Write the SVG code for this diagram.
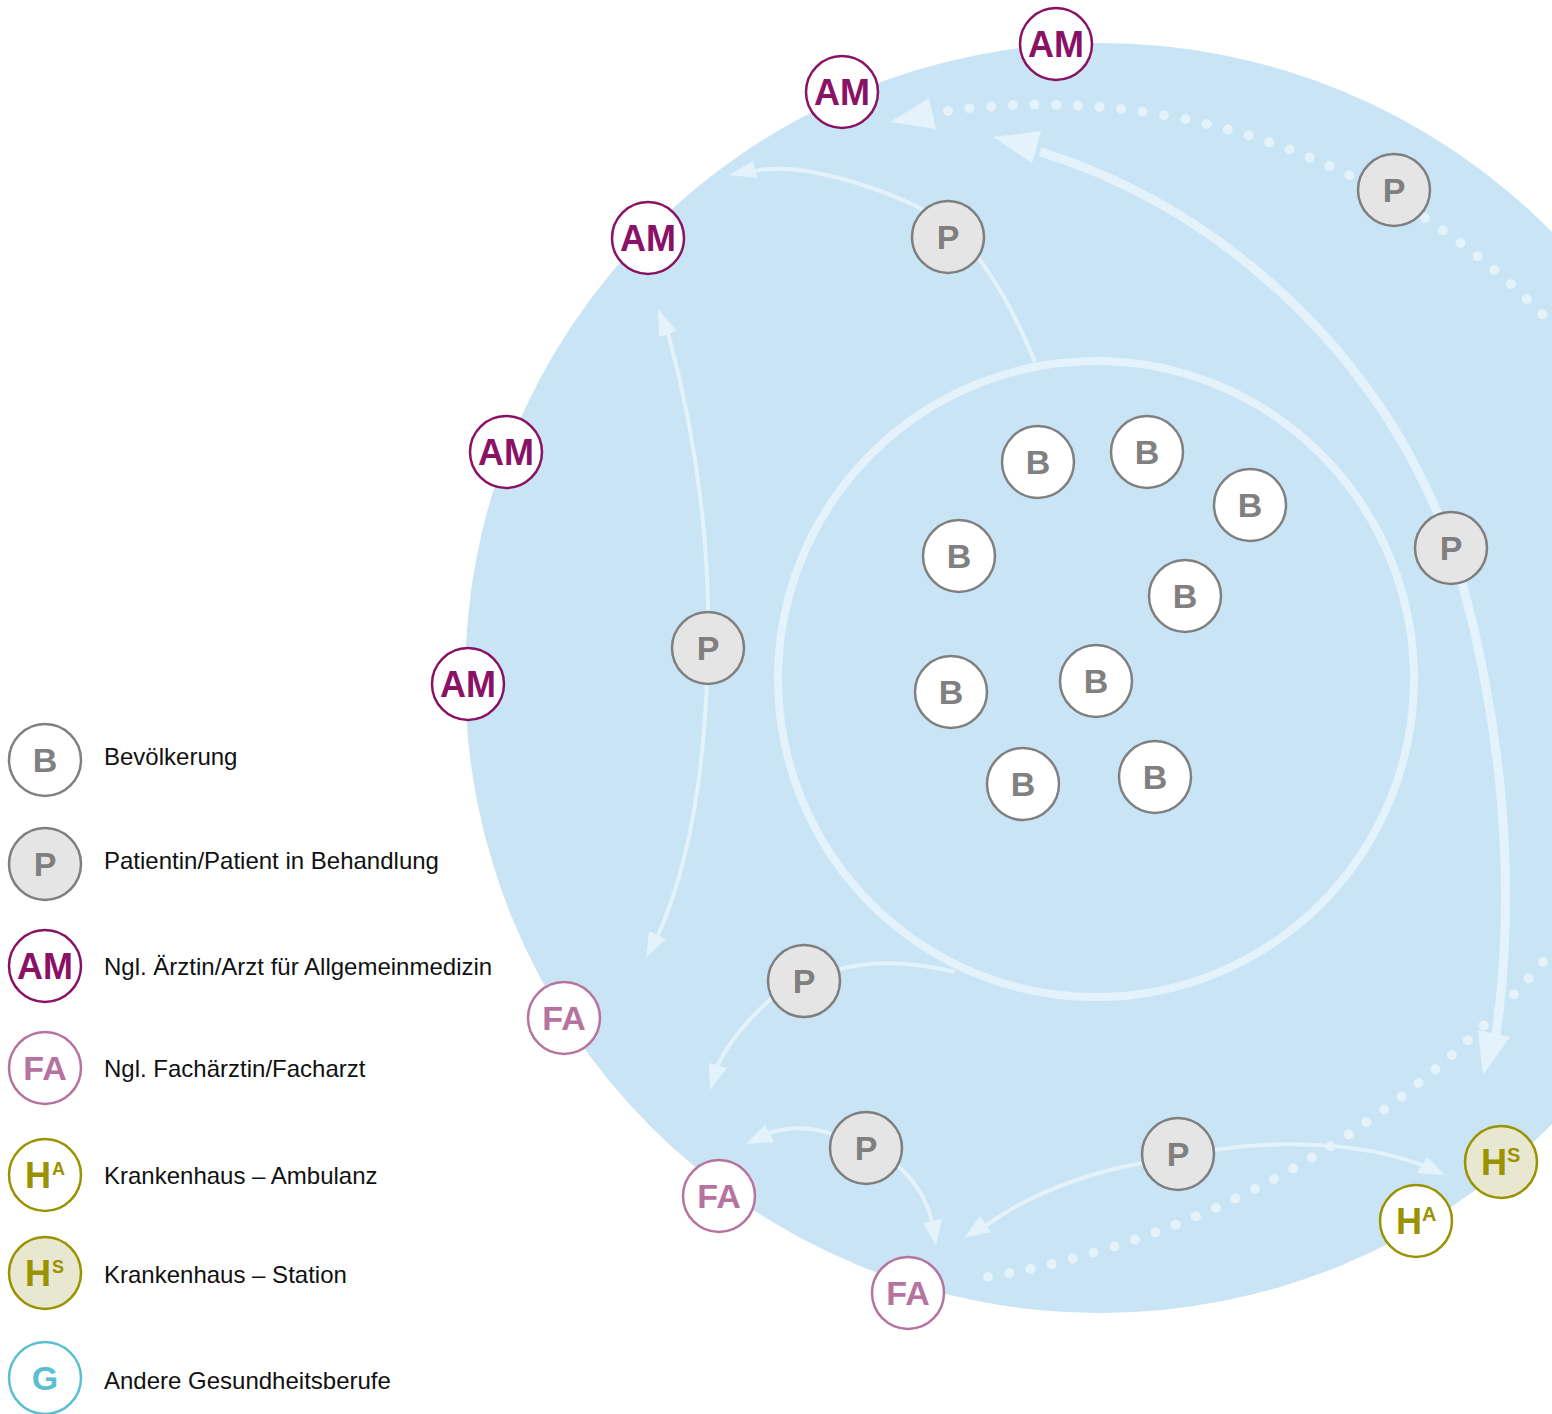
<svg xmlns="http://www.w3.org/2000/svg" width="1552" height="1414" viewBox="0 0 1552 1414">
<style>
.lbl{font-family:"Liberation Sans",Arial,Helvetica,sans-serif;font-weight:bold;text-anchor:middle}
.leg{font-family:"Liberation Sans",Arial,Helvetica,sans-serif;font-size:24px;fill:#111}
.ln{fill:none;stroke:#e3f2fb;stroke-width:4}
.thick{fill:none;stroke:#e3f2fb;stroke-width:9}
.dot{fill:none;stroke:#e3f2fb;stroke-width:10;stroke-linecap:round;stroke-dasharray:0 21.7}
.ah{fill:#e3f2fb}
.b circle{fill:#fff;stroke:#808080;stroke-width:2.5}
.b text{fill:#808080;font-size:34px}
.p circle{fill:#e5e5e5;stroke:#7f7f7f;stroke-width:2.5}
.p text{fill:#7f7f7f;font-size:34px}
.am circle{fill:#fff;stroke:#8a1266;stroke-width:2.5}
.am text{fill:#8a1266;font-size:36px}
.fa circle{fill:#fff;stroke:#b7739f;stroke-width:2.5}
.fa text{fill:#b7739f;font-size:34px}
.ha circle{fill:#fff;stroke:#9a9200;stroke-width:2.5}
.hs circle{fill:#e8e7cf;stroke:#9a9200;stroke-width:2.5}
.h text{fill:#9a9200;text-anchor:start}
.g circle{fill:#fff;stroke:#5bbfd2;stroke-width:2.5}
.g text{fill:#5bbfd2;font-size:34px}
</style>

<g id="background">
<circle cx="1100" cy="678" r="635" fill="#c9e5f5"/>
<circle cx="1096" cy="679" r="318" fill="none" stroke="#e3f2fb" stroke-width="8"/>
</g>

<g id="connectors">
<path class="dot" d="M 948,111 A 700 700 0 0 1 1616,403"/>
<polygon class="ah" points="890,122 929,98 936,129"/>
<path class="dot" d="M 988,1277 A 933 933 0 0 0 1606,879"/>
<path class="thick" d="M 1438,514 C 1360,330 1200,200 1040,152"/>
<polygon class="ah" points="993,137 1041,131 1032,163"/>
<path class="thick" d="M 1462,582 C 1500,720 1518,880 1496,1035"/>
<polygon class="ah" points="1483,1075 1478,1030 1510,1037"/>
<path class="ln" d="M 1035,362 C 1005,290 975,245 940,220 C 905,195 805,160 755,171"/>
<polygon class="ah" points="729,175 753,161 757,178"/>
<path class="ln" d="M 668,333 C 700,450 710,560 708,648 C 706,760 692,860 658,935"/>
<polygon class="ah" points="658,309 659,337 677,331"/>
<polygon class="ah" points="646,958 649,931 666,939"/>
<path class="ln" d="M 840,969 Q 890,956 955,972"/>
<path class="ln" d="M 772,998 Q 735,1030 716,1068"/>
<polygon class="ah" points="710,1090 709,1063 727,1068"/>
<path class="ln" d="M 835,1135 Q 800,1122 766,1134"/>
<polygon class="ah" points="746,1144 765,1125 774,1142"/>
<path class="ln" d="M 898,1166 Q 925,1190 932,1222"/>
<polygon class="ah" points="936,1246 923,1223 942,1219"/>
<path class="ln" d="M 1142,1163 Q 1050,1180 985,1226"/>
<polygon class="ah" points="964,1238 980,1216 991,1232"/>
<path class="ln" d="M 1214,1150 C 1280,1140 1360,1142 1422,1165"/>
<polygon class="ah" points="1445,1175 1417,1173 1427,1157"/>
</g>

<g id="am1" class="am"><circle cx="1056" cy="44" r="36"/><text class="lbl" x="1056" y="57">AM</text></g>
<g id="am2" class="am"><circle cx="842" cy="92" r="36"/><text class="lbl" x="842" y="105">AM</text></g>
<g id="am3" class="am"><circle cx="648" cy="238" r="36"/><text class="lbl" x="648" y="251">AM</text></g>
<g id="am4" class="am"><circle cx="506" cy="452" r="36"/><text class="lbl" x="506" y="465">AM</text></g>
<g id="am5" class="am"><circle cx="468" cy="684" r="36"/><text class="lbl" x="468" y="697">AM</text></g>

<g id="p1" class="p"><circle cx="948" cy="237" r="36"/><text class="lbl" x="948" y="249">P</text></g>
<g id="p2" class="p"><circle cx="1394" cy="190" r="36"/><text class="lbl" x="1394" y="202">P</text></g>
<g id="p3" class="p"><circle cx="1451" cy="548" r="36"/><text class="lbl" x="1451" y="560">P</text></g>
<g id="p4" class="p"><circle cx="708" cy="648" r="36"/><text class="lbl" x="708" y="660">P</text></g>
<g id="p5" class="p"><circle cx="804" cy="981" r="36"/><text class="lbl" x="804" y="993">P</text></g>
<g id="p6" class="p"><circle cx="866" cy="1148" r="36"/><text class="lbl" x="866" y="1160">P</text></g>
<g id="p7" class="p"><circle cx="1178" cy="1154" r="36"/><text class="lbl" x="1178" y="1166">P</text></g>

<g id="b1" class="b"><circle cx="1038" cy="462" r="36"/><text class="lbl" x="1038" y="474">B</text></g>
<g id="b2" class="b"><circle cx="1147" cy="452" r="36"/><text class="lbl" x="1147" y="464">B</text></g>
<g id="b3" class="b"><circle cx="1250" cy="505" r="36"/><text class="lbl" x="1250" y="517">B</text></g>
<g id="b4" class="b"><circle cx="959" cy="556" r="36"/><text class="lbl" x="959" y="568">B</text></g>
<g id="b5" class="b"><circle cx="1185" cy="596" r="36"/><text class="lbl" x="1185" y="608">B</text></g>
<g id="b6" class="b"><circle cx="951" cy="692" r="36"/><text class="lbl" x="951" y="704">B</text></g>
<g id="b7" class="b"><circle cx="1096" cy="681" r="36"/><text class="lbl" x="1096" y="693">B</text></g>
<g id="b8" class="b"><circle cx="1023" cy="784" r="36"/><text class="lbl" x="1023" y="796">B</text></g>
<g id="b9" class="b"><circle cx="1155" cy="777" r="36"/><text class="lbl" x="1155" y="789">B</text></g>

<g id="fa1" class="fa"><circle cx="564" cy="1018" r="36"/><text class="lbl" x="564" y="1030">FA</text></g>
<g id="fa2" class="fa"><circle cx="719" cy="1196" r="36"/><text class="lbl" x="719" y="1208">FA</text></g>
<g id="fa3" class="fa"><circle cx="908" cy="1293" r="36"/><text class="lbl" x="908" y="1305">FA</text></g>

<g id="hs1" class="hs h"><circle cx="1501" cy="1162" r="36"/><text class="lbl" x="1481" y="1175" font-size="36">H</text><text class="lbl" x="1507" y="1162" font-size="20">S</text></g>
<g id="ha1" class="ha h"><circle cx="1416" cy="1221" r="36"/><text class="lbl" x="1396" y="1234" font-size="36">H</text><text class="lbl" x="1422" y="1221" font-size="20">A</text></g>

<g id="legend">
<g id="leg-b" class="b"><circle cx="45" cy="760" r="36"/><text class="lbl" x="45" y="772">B</text></g>
<text class="leg" x="104" y="765">Bevölkerung</text>
<g id="leg-p" class="p"><circle cx="45" cy="864" r="36"/><text class="lbl" x="45" y="876">P</text></g>
<text class="leg" x="104" y="869">Patientin/Patient in Behandlung</text>
<g id="leg-am" class="am"><circle cx="45" cy="966" r="36"/><text class="lbl" x="45" y="979">AM</text></g>
<text class="leg" x="104" y="975">Ngl. Ärztin/Arzt für Allgemeinmedizin</text>
<g id="leg-fa" class="fa"><circle cx="45" cy="1068" r="36"/><text class="lbl" x="45" y="1080">FA</text></g>
<text class="leg" x="104" y="1077">Ngl. Fachärztin/Facharzt</text>
<g id="leg-ha" class="ha h"><circle cx="45" cy="1175" r="36"/><text class="lbl" x="25" y="1188" font-size="36">H</text><text class="lbl" x="52" y="1175" font-size="18">A</text></g>
<text class="leg" x="104" y="1184">Krankenhaus – Ambulanz</text>
<g id="leg-hs" class="hs h"><circle cx="45" cy="1273" r="36"/><text class="lbl" x="25" y="1286" font-size="36">H</text><text class="lbl" x="52" y="1273" font-size="18">S</text></g>
<text class="leg" x="104" y="1283">Krankenhaus – Station</text>
<g id="leg-g" class="g"><circle cx="45" cy="1378" r="36"/><text class="lbl" x="45" y="1390">G</text></g>
<text class="leg" x="104" y="1389">Andere Gesundheitsberufe</text>
</g>
</svg>
